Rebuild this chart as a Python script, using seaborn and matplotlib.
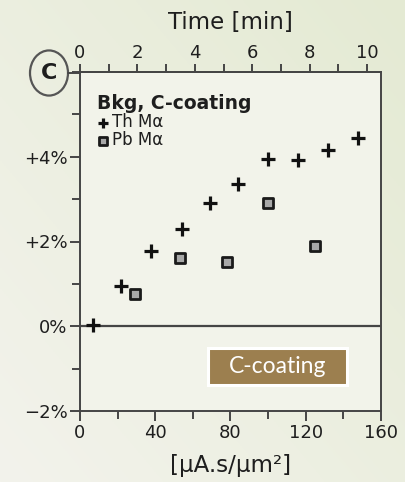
import numpy as np
import pandas as pd
import matplotlib
matplotlib.use("Agg")
import matplotlib.pyplot as plt
import seaborn as sns
from matplotlib.patches import Circle, Rectangle
from matplotlib.ticker import MultipleLocator

# ---- data ----
th_x = [7, 22, 38, 54, 69, 84, 100, 116, 132, 148]
th_y = [0.02, 0.96, 1.78, 2.30, 2.92, 3.35, 3.95, 3.92, 4.15, 4.45]
pb_x = [29, 53, 78, 100, 125]
pb_y = [0.75, 1.62, 1.52, 2.90, 1.90]
series_names = ["Th M\u03b1", "Pb M\u03b1"]
y_ticks = [-2, 0, 2, 4]
y_tick_labels = ["\u22122%", "0%", "+2%", "+4%"]
x_ticks = [0, 40, 80, 120, 160]
time_ticks = [0, 2, 4, 6, 8, 10]
dose_per_min = 15.26

df_th = pd.DataFrame({"dose": th_x, "bkg": th_y, "series": series_names[0]})
df_pb = pd.DataFrame({"dose": pb_x, "bkg": pb_y, "series": series_names[1]})

sns.set_theme(style="white")
plt.rcParams["font.family"] = ["DejaVu Sans"]

fig = plt.figure(figsize=(4.06, 4.82), dpi=100)
fig.patch.set_facecolor("#eceee0")

# background gradient
bg = fig.add_axes([0, 0, 1, 1], zorder=-10)
gx = np.linspace(0, 1, 200)
gy = np.linspace(0, 1, 200)
GX, GY = np.meshgrid(gx, gy)
t = np.clip(0.5 * GX + 0.5 * (1 - GY), 0, 1)
c0 = np.array([0xf3, 0xf3, 0xec]) / 255
c1 = np.array([0xe4, 0xea, 0xd3]) / 255
img = c0[None, None, :] * (1 - t[..., None]) + c1[None, None, :] * t[..., None]
bg.imshow(img, extent=[0, 1, 0, 1], aspect="auto", origin="upper")
bg.axis("off")

ax = fig.add_axes([80 / 406, (482 - 411) / 482, 301 / 406, 339 / 482])
ax.set_facecolor("#f2f3ea")

dark = "#1e1e1e"
line_c = "#454545"
ax.axhline(0, color=line_c, lw=1.6, zorder=1)

sns.scatterplot(data=df_th, x="dose", y="bkg", marker="+", s=100,
                color="#111111", linewidth=2.3, label=series_names[0], ax=ax, zorder=3)
sns.scatterplot(data=df_pb, x="dose", y="bkg", marker="s", s=48,
                color="#a8a8a8", edgecolor="#1a1a1a", linewidth=2.0,
                label=series_names[1], ax=ax, zorder=3)

ax.set_xlim(0, 160)
ax.set_ylim(-2, 6)
ax.set_xticks(x_ticks)
ax.xaxis.set_minor_locator(MultipleLocator(20))
ax.set_yticks(y_ticks)
ax.set_yticklabels(y_tick_labels)
ax.yaxis.set_minor_locator(MultipleLocator(1))
ax.set_xlabel("[\u00b5A.s/\u00b5m\u00b2]", fontsize=16.5, color=dark, labelpad=9)
ax.set_ylabel("")

for sp in ax.spines.values():
    sp.set_color(line_c)
    sp.set_linewidth(1.4)

ax.tick_params(axis="both", which="major", direction="out", length=7, width=1.4,
               color=line_c, labelsize=13, labelcolor=dark, pad=2)
ax.tick_params(axis="both", which="minor", direction="out", length=6, width=1.4,
               color=line_c)
ax.tick_params(axis="x", which="both", bottom=True)
ax.tick_params(axis="y", which="both", left=True)

sec = ax.secondary_xaxis("top", functions=(lambda d: d / dose_per_min,
                                           lambda m: m * dose_per_min))
sec.set_xticks(time_ticks)
sec.xaxis.set_minor_locator(MultipleLocator(1))
sec.tick_params(axis="x", which="major", direction="out", length=6, width=1.4,
                color=line_c, labelsize=13, labelcolor=dark, pad=1)
sec.tick_params(axis="x", which="minor", direction="out", length=6, width=1.4,
                color=line_c)
sec.spines["top"].set_color(line_c)
sec.spines["top"].set_linewidth(1.4)
sec.set_xlabel("Time [min]", fontsize=16.5, color=dark, labelpad=11)

leg = ax.legend(loc="upper left", frameon=False, title="Bkg, C-coating",
                fontsize=12, title_fontproperties={"weight": "bold", "size": 13.5},
                handletextpad=0.15, handlelength=0.8, markerscale=0.75,
                bbox_to_anchor=(0.055, 0.935), borderaxespad=0.0,
                labelspacing=0.0, borderpad=0.0)
leg._legend_box.align = "left"
for txt in leg.get_texts():
    txt.set_color(dark)
leg.get_title().set_color(dark)

# panel label "C" in circle
circ = Circle((49 / 406, 1 - 73 / 482), 19 / 406, transform=fig.transFigure,
              facecolor="none", edgecolor="#555555", lw=1.6)
fig.patches.append(circ)
fig.text(49 / 406, 1 - 73 / 482, "C", ha="center", va="center",
         fontsize=16, color=dark, fontweight="bold")
fig.add_artist(plt.Line2D([68 / 406, 80 / 406], [1 - 73 / 482, 1 - 73 / 482],
                          transform=fig.transFigure, color=line_c, lw=1.4))

# "C-coating" label box
bx0, bx1 = (208 - 80) / 301, (347 - 80) / 301
by0, by1 = (411 - 385) / 339, (411 - 348) / 339
ax.add_patch(Rectangle((bx0, by0), bx1 - bx0, by1 - by0, transform=ax.transAxes,
                       facecolor="#9c7f4f", edgecolor="white", linewidth=2.2, zorder=4))
ax.text((bx0 + bx1) / 2, (by0 + by1) / 2, "C-coating", transform=ax.transAxes,
        ha="center", va="center", fontsize=16.5, color="white", family="Lato",
        zorder=5)

fig.savefig("out.png", dpi=100, facecolor=fig.get_facecolor())
